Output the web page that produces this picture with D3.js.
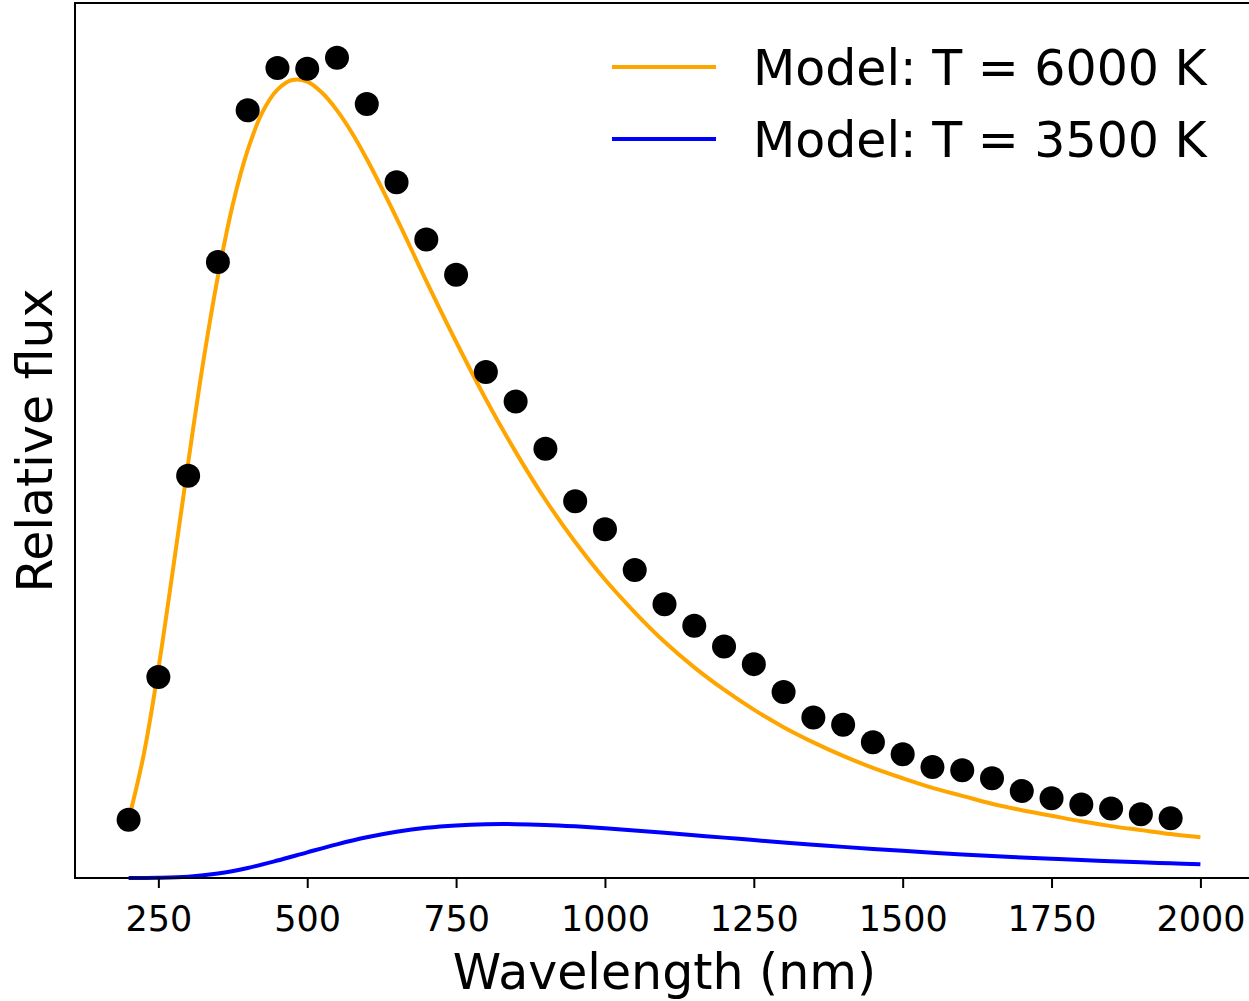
<!DOCTYPE html>
<html lang="en">
<head>
    <meta charset="UTF-8">
    <title>Relative flux vs wavelength</title>
    <script src="https://d3js.org/d3.v7.min.js"></script>
    <style>
        body { margin: 0; background: #fff; }
        text { font-family: "DejaVu Sans", sans-serif; fill: #000; }
    </style>
</head>
<body>

<div id="chart"></div>

<script>
// Observed points (wavelength in nm, relative flux)
const obsWavelength = [200, 250, 300, 350, 400, 450, 500, 550, 600, 650, 700, 750, 800, 850, 900, 950,
    1000, 1050, 1100, 1150, 1200, 1250, 1300, 1350, 1400, 1450, 1500, 1550, 1600, 1650, 1700, 1750,
    1800, 1850, 1900, 1950];
const obsFlux = [0.073, 0.252, 0.504, 0.772, 0.962, 1.015, 1.014, 1.028, 0.970, 0.872, 0.800, 0.756,
    0.634, 0.597, 0.538, 0.472, 0.437, 0.386, 0.343, 0.316, 0.290, 0.268, 0.233, 0.201, 0.192, 0.170,
    0.155, 0.139, 0.135, 0.125, 0.109, 0.100, 0.092, 0.087, 0.080, 0.075];

// Model curve T = 6000 K
const hotWavelength = [200, 225, 250, 275, 300, 325, 350, 375, 400, 425, 450, 475, 500, 525, 550, 575,
    600, 650, 700, 750, 800, 850, 900, 950, 1000, 1050, 1100, 1150, 1200, 1250, 1300, 1350, 1400, 1450,
    1500, 1550, 1600, 1650, 1700, 1750, 1800, 1850, 1900, 1950, 2000];
const hotFlux = [0.073, 0.153, 0.262, 0.389, 0.520, 0.645, 0.754, 0.844, 0.912, 0.960, 0.988, 1.000,
    0.998, 0.984, 0.962, 0.934, 0.901, 0.827, 0.748, 0.672, 0.600, 0.534, 0.474, 0.421, 0.374, 0.333,
    0.296, 0.264, 0.236, 0.211, 0.189, 0.170, 0.153, 0.138, 0.125, 0.113, 0.103, 0.093, 0.085, 0.078,
    0.071, 0.065, 0.060, 0.055, 0.051];

// Model curve T = 3500 K
const coolWavelength = [200, 250, 300, 350, 400, 450, 500, 550, 600, 650, 700, 750, 800, 850, 900, 950,
    1000, 1050, 1100, 1150, 1200, 1250, 1300, 1350, 1400, 1450, 1500, 1550, 1600, 1650, 1700, 1750,
    1800, 1850, 1900, 1950, 2000];
const coolFlux = [0.0000, 0.0003, 0.0017, 0.0057, 0.0126, 0.0219, 0.0322, 0.0422, 0.0510, 0.0579,
    0.0629, 0.0659, 0.0674, 0.0675, 0.0665, 0.0647, 0.0624, 0.0596, 0.0567, 0.0536, 0.0506, 0.0475,
    0.0445, 0.0417, 0.0390, 0.0364, 0.0340, 0.0317, 0.0296, 0.0276, 0.0258, 0.0241, 0.0225, 0.0210,
    0.0196, 0.0184, 0.0172];

const xTicks = [250, 500, 750, 1000, 1250, 1500, 1750, 2000];
const legendLabels = ["Model: T = 6000 K", "Model: T = 3500 K"];
const legendColors = ["orange", "blue"];

const W = 1249, H = 1001;
const plot = {left: 75, top: 3, right: 1254, bottom: 878};

const svg = d3.select("#chart").append("svg")
    .attr("width", W)
    .attr("height", H);

const x = d3.scaleLinear().domain([110, 2090]).range([plot.left, plot.right]);
const y = d3.scaleLinear().domain([0, 1.0965]).range([plot.bottom, plot.top]);

const zip = (a, b) => a.map((v, i) => ({x: v, y: b[i]}));

const line = d3.line()
    .x(d => x(d.x))
    .y(d => y(d.y))
    .curve(d3.curveCatmullRom);

// model curves
svg.append("path")
    .datum(zip(hotWavelength, hotFlux))
    .attr("fill", "none")
    .attr("stroke", "orange")
    .attr("stroke-width", 4)
    .attr("d", line);

svg.append("path")
    .datum(zip(coolWavelength, coolFlux))
    .attr("fill", "none")
    .attr("stroke", "blue")
    .attr("stroke-width", 4)
    .attr("d", line);

// observed points
svg.selectAll(".dot")
    .data(zip(obsWavelength, obsFlux))
    .enter().append("circle")
    .attr("class", "dot")
    .attr("cx", d => x(d.x))
    .attr("cy", d => y(d.y))
    .attr("r", 12)
    .attr("fill", "black");

// frame (right side falls outside the picture)
svg.append("rect")
    .attr("x", plot.left)
    .attr("y", plot.top)
    .attr("width", plot.right - plot.left)
    .attr("height", plot.bottom - plot.top)
    .attr("fill", "none")
    .attr("stroke", "black")
    .attr("stroke-width", 2);

// x axis
const xAxis = svg.append("g")
    .attr("transform", `translate(0,${plot.bottom})`)
    .call(d3.axisBottom(x).tickValues(xTicks).tickSize(10).tickPadding(18).tickFormat(d3.format("d")));
xAxis.select(".domain").remove();
xAxis.selectAll("line").attr("stroke", "black").attr("stroke-width", 2);
xAxis.selectAll("text")
    .style("font-family", "'DejaVu Sans', sans-serif")
    .style("font-size", "35px");

// axis titles
svg.append("text")
    .attr("x", (plot.left + plot.right) / 2)
    .attr("y", 989)
    .attr("text-anchor", "middle")
    .style("font-size", "49px")
    .text("Wavelength (nm)");

svg.append("text")
    .attr("transform", `translate(52,${(plot.top + plot.bottom) / 2}) rotate(-90)`)
    .attr("text-anchor", "middle")
    .style("font-size", "49px")
    .text("Relative flux");

// legend
const legend = svg.append("g");
legendLabels.forEach((label, i) => {
    const ly = 67 + i * 72;
    legend.append("line")
        .attr("x1", 612).attr("x2", 716)
        .attr("y1", ly).attr("y2", ly)
        .attr("stroke", legendColors[i])
        .attr("stroke-width", 4);
    legend.append("text")
        .attr("x", 753)
        .attr("y", ly + 18)
        .style("font-size", "49px")
        .text(label);
});
</script>

</body>
</html>
